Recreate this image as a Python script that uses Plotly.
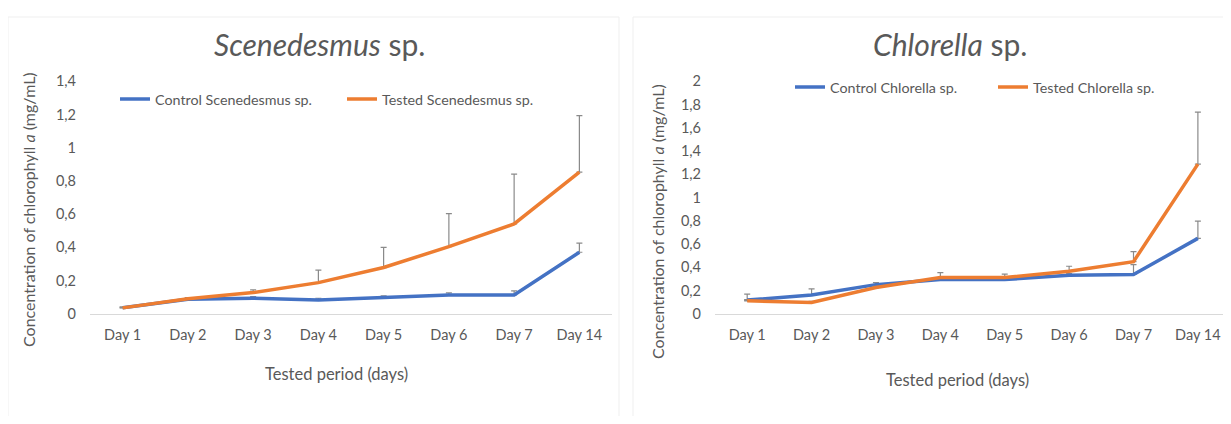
import plotly.graph_objects as go

days = ["Day 1", "Day 2", "Day 3", "Day 4", "Day 5", "Day 6", "Day 7", "Day 14"]

scen_control = [0.036, 0.087, 0.093, 0.083, 0.097, 0.113, 0.113, 0.370]
scen_control_err = [0.004, 0.008, 0.010, 0.010, 0.010, 0.012, 0.024, 0.055]
scen_tested = [0.035, 0.090, 0.127, 0.187, 0.278, 0.404, 0.541, 0.853]
scen_tested_err = [0.004, 0.006, 0.016, 0.075, 0.122, 0.199, 0.300, 0.340]

chl_control = [0.117, 0.160, 0.250, 0.294, 0.294, 0.330, 0.337, 0.648]
chl_control_err = [0.051, 0.054, 0.018, 0.010, 0.010, 0.015, 0.085, 0.148]
chl_tested = [0.111, 0.097, 0.225, 0.311, 0.311, 0.365, 0.448, 1.287]
chl_tested_err = [0.010, 0.010, 0.010, 0.043, 0.029, 0.043, 0.086, 0.448]

BLUE = "#4472C4"
ORANGE = "#ED7D31"
GRAY_TXT = "#595959"
ERR = "#8a8a8a"
FONT = "Lato"
W, H = 1215, 408
OX = 8
VY0, VS = 15.5, 0.961   # observed vertical placement of the figure in the photograph

def px(x):
    return min(max((x - OX) / W, 0), 1)

def py(y):
    return min(max(1 - ((y - VY0) / VS) / H, 0), 1)

def err(vals):
    return dict(type="data", array=vals, arrayminus=[0] * len(vals), symmetric=False,
                color=ERR, thickness=1.2, width=3)

fig = go.Figure()
series = [
    ("Control Scenedesmus sp.", scen_control, scen_control_err, BLUE, "x", "y", "legend"),
    ("Tested Scenedesmus sp.", scen_tested, scen_tested_err, ORANGE, "x", "y", "legend"),
    ("Control Chlorella sp.", chl_control, chl_control_err, BLUE, "x2", "y2", "legend2"),
    ("Tested Chlorella sp.", chl_tested, chl_tested_err, ORANGE, "x2", "y2", "legend2"),
]
for name, vals, e, col, xa, ya, lg in series:
    fig.add_trace(go.Scatter(
        x=days, y=vals, name=name, mode="lines", xaxis=xa, yaxis=ya, legend=lg,
        line=dict(color=col, width=3.5), error_y=err(e), hoverinfo="skip"))

axis_common = dict(showgrid=False, zeroline=False, tickfont=dict(family=FONT, size=14.5, color=GRAY_TXT))
ydom = [py(313), py(80)]

fig.update_layout(
    width=W, height=H, margin=dict(l=0, r=0, t=0, b=0),
    paper_bgcolor="white", plot_bgcolor="white", separators=",.",
    font=dict(family=FONT, color=GRAY_TXT),
    xaxis=dict(domain=[px(90), px(612)], type="category", range=[-0.5, 7.5], showline=True,
               linecolor="#d9d9d9", linewidth=1, ticks="", ticklabelstandoff=8, anchor="y", **axis_common),
    yaxis=dict(domain=ydom, range=[0, 1.4], tickvals=[0, 0.2, 0.4, 0.6, 0.8, 1.0, 1.2, 1.4],
               showline=False, ticks="", ticklabelstandoff=13, anchor="x", **axis_common),
    xaxis2=dict(domain=[px(715), 1.0], type="category", range=[-0.5, 7.39], showline=True,
                linecolor="#d9d9d9", linewidth=1, ticks="", ticklabelstandoff=8, anchor="y2", **axis_common),
    yaxis2=dict(domain=ydom, range=[0, 2], tickvals=[0, 0.2, 0.4, 0.6, 0.8, 1.0, 1.2, 1.4, 1.6, 1.8, 2.0],
                showline=False, ticks="", ticklabelstandoff=13, anchor="x2", **axis_common),
    legend=dict(orientation="h", x=px(115), y=py(98), xanchor="left", yanchor="middle",
                entrywidth=182, entrywidthmode="pixels", bgcolor="rgba(0,0,0,0)",
                font=dict(family=FONT, size=14.3, color=GRAY_TXT)),
    legend2=dict(orientation="h", x=px(790), y=py(86), xanchor="left", yanchor="middle",
                 entrywidth=158, entrywidthmode="pixels", bgcolor="rgba(0,0,0,0)",
                 font=dict(family=FONT, size=14.3, color=GRAY_TXT)),
    showlegend=True,
)

# panel cards
for x0, x1 in [(8, 619), (633, 1240)]:
    fig.add_shape(type="rect", xref="paper", yref="paper", x0=(x0 - OX) / W, x1=(x1 - OX) / W,
                  y0=-0.1, y1=1.0, line=dict(color="#efefef", width=1),
                  fillcolor="rgba(0,0,0,0)", layer="below")

ann = []
ann.append(dict(text="<i>Scenedesmus</i> sp.", x=px(319), y=py(43), font=dict(size=30)))
ann.append(dict(text="<i>Chlorella</i> sp.", x=px(950), y=py(43), font=dict(size=30)))
ytitle = "Concentration of chlorophyll <i>a</i> (mg/mL)"
ann.append(dict(text=ytitle, x=px(29), y=py(209), textangle=-90, font=dict(size=16)))
ann.append(dict(text=ytitle, x=px(658), y=py(221), textangle=-90, font=dict(size=16)))
ann.append(dict(text="Tested period (days)", x=px(336), y=py(373), font=dict(size=16.5)))
ann.append(dict(text="Tested period (days)", x=px(957), y=py(380), font=dict(size=16.5)))
for a in ann:
    f = dict(family=FONT, color=GRAY_TXT)
    f.update(a.pop("font"))
    fig.add_annotation(xref="paper", yref="paper", showarrow=False, xanchor="center", yanchor="middle",
                       font=f, **a)

fig.write_html("out.html")
